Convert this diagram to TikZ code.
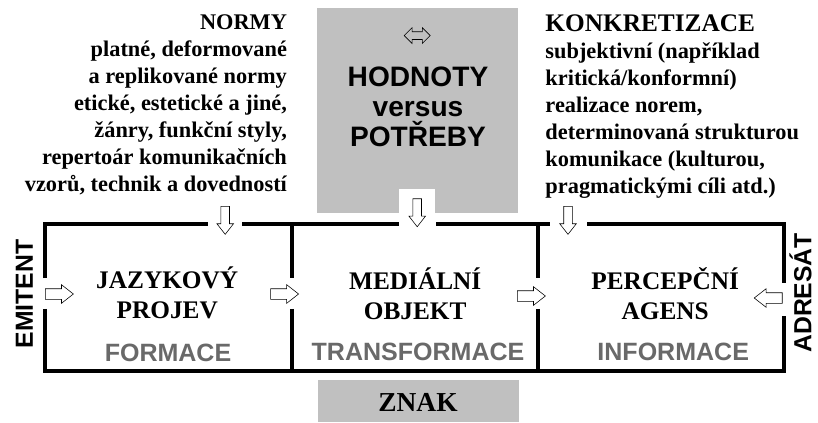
\documentclass[tikz,border=0pt]{standalone}
\usepackage{fontspec}
\setmainfont{Liberation Serif}
\setsansfont{Liberation Sans}
\usetikzlibrary{shapes.arrows}
\definecolor{seda}{RGB}{192,192,192}
\definecolor{sedytext}{RGB}{105,105,105}

\begin{document}
\begin{tikzpicture}
\tikzset{
    ramec/.style={line width=2.8pt, black},
    sipka/.style={single arrow, draw=black, thin, fill=white, inner xsep=0pt, inner ysep=0.125cm,
                  minimum height=0.7cm, single arrow head extend=0.1cm, single arrow tip angle=76},
    titulek/.style={align=center, font=\fontsize{18}{21.3}\selectfont\bfseries},
    faze/.style={font=\sffamily\fontsize{17.8}{20}\selectfont\bfseries, text=sedytext},
    popis/.style={font=\fontsize{15.9}{19.2}\selectfont\bfseries, inner sep=0pt},
    strana/.style={font=\sffamily\fontsize{17.6}{20}\selectfont\bfseries, rotate=90,
                   inner sep=0pt, anchor=south}
}
\useasboundingbox (0,0) rectangle (20.45,10.55);
% sede plochy
\fill[seda] (7.93,5.23) rectangle (12.95,10.35);
\fill[white] (9.98,5.23) rectangle (10.88,5.83);
\fill[seda] (7.95,0) rectangle (12.98,1.05);
% ramec
\draw[ramec] (1.13,3.6) -- (1.13,4.95) -- (5.2,4.95);
\draw[ramec] (6.05,4.95) -- (9.98,4.95);
\draw[ramec] (10.9,4.95) -- (13.75,4.95);
\draw[ramec] (14.68,4.95) -- (19.6,4.95) -- (19.6,3.48);
\draw[ramec] (1.13,2.83) -- (1.13,1.28) -- (19.6,1.28) -- (19.6,2.65);
\draw[ramec] (7.3,4.95) -- (7.3,3.6);
\draw[ramec] (7.3,2.83) -- (7.3,1.28);
\draw[ramec] (13.45,4.95) -- (13.45,3.6);
\draw[ramec] (13.45,2.83) -- (13.45,1.28);
% sipky
\node[sipka, rotate=-90, inner ysep=0.1cm] (a1) at (5.63,5.11) {};
\node[sipka, rotate=-90, inner ysep=0.1cm] (a2) at (10.43,5.3) {};
\node[sipka, rotate=-90, inner ysep=0.1cm] (a3) at (14.2,5.11) {};
\node[sipka] (e1) at (1.4,3.2) {};
\node[sipka] (p1) at (7.03,3.2) {};
\node[sipka] (p2) at (13.2,3.15) {};
\node[sipka, rotate=180] (r1) at (19.29,3.1) {};
% texty
\node[popis, align=right, anchor=north east] (normy) at (7.18,10.18)
    {NORMY\\ platné, deformované\\ a replikované normy\\ etické, estetické a jiné,\\
     žánry, funkční styly,\\ repertoár komunikačních\\ vzorů, technik a dovedností};
\node[popis, align=left, anchor=north west] (konkr) at (13.63,10.18)
    {{\fontsize{18}{19.2}\selectfont KONKRETIZACE}\\ subjektivní (například\\ kritická/konformní)\\
     realizace norem,\\ determinovaná strukturou\\ komunikace (kulturou,\\ pragmatickými cíli atd.)};
\node[double arrow, draw, thin, inner xsep=0pt, inner ysep=0.09cm, minimum height=0.65cm,
      double arrow head extend=0.1cm] (vs) at (10.43,9.66) {};
\node[align=center, font=\sffamily\fontsize{20}{21.3}\selectfont\bfseries] (hodnoty) at (10.45,7.88)
    {HODNOTY\\ versus\\ POTŘEBY};
\node[titulek] (jazyk)  at (4.18,3.23)  {JAZYKOVÝ\\ PROJEV};
\node[titulek] (medium) at (10.38,3.2)  {MEDIÁLNÍ\\ OBJEKT};
\node[titulek] (percep) at (16.63,3.2)  {PERCEPČNÍ\\ AGENS};
\node[faze] (formace) at (4.2,1.73)   {FORMACE};
\node[faze] (transf)  at (10.45,1.75) {TRANSFORMACE};
\node[faze] (inform)  at (16.83,1.75) {INFORMACE};
\node[font=\fontsize{19.5}{20}\selectfont\bfseries] (znak) at (10.45,0.48) {ZNAK};
\node[strana] (emit) at (0.83,3.2)  {EMITENT};
\node[strana] (adr)  at (20.3,3.23) {ADRESÁT};
\end{tikzpicture}
\end{document}
